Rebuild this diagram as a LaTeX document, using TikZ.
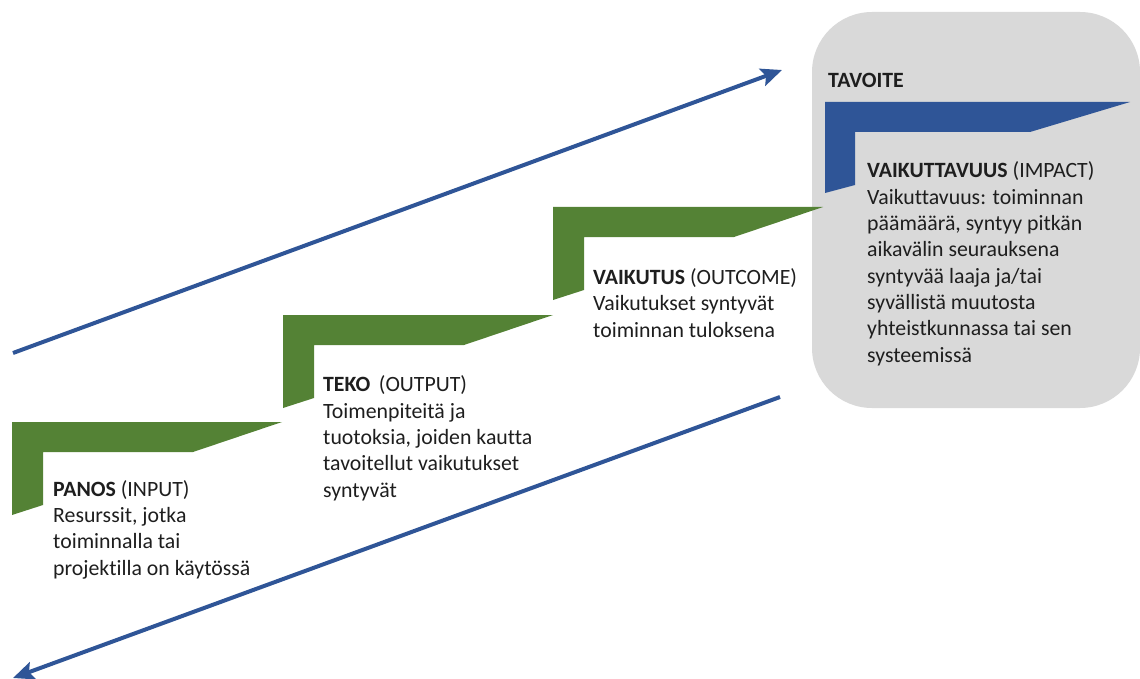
\documentclass[tikz,border=0pt]{standalone}
\usepackage{fontspec}
\setmainfont{Carlito}[Ligatures={NoCommon}]
\usetikzlibrary{arrows.meta}
\definecolor{stepgreen}{HTML}{548235}
\definecolor{deepblue}{HTML}{2F5597}
\definecolor{goalgray}{HTML}{D9D9D9}
\definecolor{inktext}{HTML}{1E1E1E}
\begin{document}
\begin{tikzpicture}[x=1pt,y=-1pt,
  greenstep/.style={fill=stepgreen},
  bluestep/.style={fill=deepblue},
  goalbox/.style={fill=goalgray,rounded corners=60pt},
  flow/.style={draw=deepblue,line width=4pt,
    -{Stealth[length=21pt,width=18pt,inset=4pt]}},
  label/.style={anchor=base west,inner sep=0pt,align=left,text=inktext,
    font=\fontsize{21.8}{26.3}\selectfont}]
\useasboundingbox (0,0) rectangle (1140,679);

% goal panel
\path[goalbox] (812,12) rectangle (1140,408);

% stair shapes
\path[greenstep] (12,422) -- ++(270,0) -- ++(-89,30) -- ++(-150,0)
  -- ++(0,53) -- ++(-31,10) -- cycle;
\path[greenstep] (283,315) -- ++(270,0) -- ++(-89,30) -- ++(-150,0)
  -- ++(0,53) -- ++(-31,10) -- cycle;
\path[greenstep] (553,207) -- ++(270,0) -- ++(-89,30) -- ++(-150,0)
  -- ++(0,53) -- ++(-31,10) -- cycle;
\path[bluestep] (825,102) -- ++(305,0) -- ++(-100,30) -- ++(-175,0)
  -- ++(0,53) -- ++(-30,8) -- cycle;

% flow arrows
\coordinate (upstart) at (13,353);
\coordinate (upend) at (782,70);
\coordinate (downstart) at (780,397);
\coordinate (downend) at (13,678);
\draw[flow] (upstart) -- (upend);
\draw[flow] (downstart) -- (downend);

% texts (anchored at the baseline of their last line)
\node[label] (panos) at (53,575) {\textbf{PANOS} (INPUT)\\Resurssit, jotka\\toiminnalla tai\\projektilla on käytössä};
\node[label] (teko) at (323,497) {\textbf{TEKO}\, (OUTPUT)\\Toimenpiteitä ja\\tuotoksia, joiden kautta\\tavoitellut vaikutukset\\syntyvät};
\node[label] (vaikutus) at (593,337) {\textbf{VAIKUTUS} (OUTCOME)\\Vaikutukset syntyvät\\toiminnan tuloksena};
\node[label] (tavoite) at (828,88) {\textbf{TAVOITE}};
\node[label] (impact) at (867,362) {\textbf{VAIKUTTAVUUS} (IMPACT)\\Vaikuttavuus: toiminnan\\päämäärä, syntyy pitkän\\aikavälin seurauksena\\syntyvää laaja ja/tai\\syvällistä muutosta\\yhteistkunnassa tai sen\\systeemissä};
\end{tikzpicture}
\end{document}
